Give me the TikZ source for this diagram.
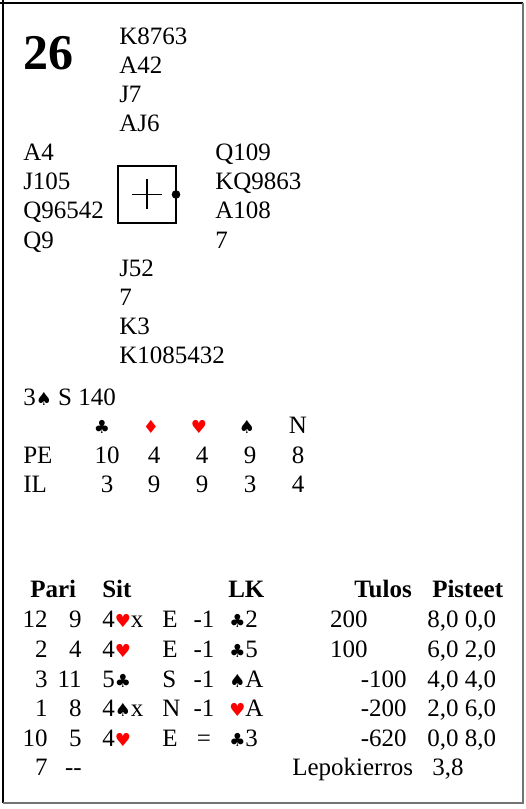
\documentclass[tikz,border=0pt]{standalone}
\usepackage{fontspec}
\setmainfont{Liberation Serif}
\newfontfamily\suitfont{DejaVu Sans}
\usetikzlibrary{calc}
\def\suitsym#1{{\suitfont\fontsize{13.5}{13.5}\selectfont #1}}
\newcommand{\Sp}{\suitsym{♠}}
\newcommand{\Cl}{\suitsym{♣}}
\newcommand{\He}{\textcolor{red}{\suitsym{♥}}}
\newcommand{\Di}{\textcolor{red}{\suitsym{♦}}}

\begin{document}
\begin{tikzpicture}[x=0.75pt,y=-0.75pt,
		txt/.style={inner sep=0pt,anchor=base west,font=\fontsize{18.75}{22}\selectfont},
		rtxt/.style={txt,anchor=base east},
		ctxt/.style={txt,anchor=base},
		head/.style={txt,font=\fontsize{18.75}{22}\selectfont\bfseries}]
		%%%%% START %%%%%
		\useasboundingbox (0,0) rectangle (525,809);
		\draw[line width=1.5] (3,803) -- (3,0);
		\draw[line width=1.5] (0,3) -- (523,3);
		\draw[line width=1.5,black!55] (523,3) -- (523,803) -- (3,803);
		
		\node[txt,font=\fontsize{37.5}{40}\selectfont\bfseries] (board) at (23,70) {26};
		
		% hands
		\foreach \c [count=\i] in {K8763,A42,J7,AJ6}
			\node[txt] (north\i) at (119,{45+29*(\i-1)}) {\c};
		\foreach \c [count=\i] in {A4,J105,Q96542,Q9}
			\node[txt] (west\i) at (23,{161+29*(\i-1)}) {\c};
		\foreach \c [count=\i] in {Q109,KQ9863,A108,7}
			\node[txt] (east\i) at (215,{161+29*(\i-1)}) {\c};
		\foreach \c [count=\i] in {J52,7,K3,K1085432}
			\node[txt] (south\i) at (119,{276+29*(\i-1)}) {\c};
		
		\draw[line width=1] (118,166) rectangle (176,223);
		\draw[line width=1] (132,194.5) -- (162,194.5);
		\draw[line width=1] (147,179.5) -- (147,209.5);
		\draw[fill=black] (176,194.5) circle (4);
		
		% contract and tricks
		\node[txt] (contract) at (23,405) {3\Sp\ S 140};
		\node[ctxt] (hcl) at (102,433) {\Cl};
		\node[ctxt] (hdi) at (151,433) {\Di};
		\node[ctxt] (hhe) at (199,433) {\He};
		\node[ctxt] (hsp) at (247,433) {\Sp};
		\node[ctxt] (hnt) at (298,433) {N};
		\node[txt] (pe) at (23,463) {PE};
		\node[txt] (il) at (23,492) {IL};
		\foreach \a/\b/\x [count=\i] in {10/3/107,4/9/154,4/9/202,9/3/250,8/4/298}{
			\node[ctxt] (pe\i) at (\x,463) {\a};
			\node[ctxt] (il\i) at (\x,492) {\b};
		}
		
		% results
		\node[head] (hpari) at (30,597) {Pari};
		\node[head] (hsit) at (102,597) {Sit};
		\node[head] (hlk) at (228,597) {LK};
		\node[head,anchor=base east] (htulos) at (412,597) {Tulos};
		\node[head] (hpist) at (432,597) {Pisteet};
		
		\node[rtxt] (a1) at (48,627) {12};
		\node[rtxt] (b1) at (82,627) {9};
		\node[txt] (s1) at (102,627) {4\He x};
		\node[txt] (d1) at (162,627) {E};
		\node[ctxt] (r1) at (204,627) {-1};
		\node[txt] (l1) at (229,627) {\Cl 2};
		\node[rtxt] (t1) at (368,627) {200};
		\node[txt] (p1) at (427,627) {8,0 0,0};
		
		\node[rtxt] (a2) at (48,657) {2};
		\node[rtxt] (b2) at (82,657) {4};
		\node[txt] (s2) at (102,657) {4\He};
		\node[txt] (d2) at (162,657) {E};
		\node[ctxt] (r2) at (204,657) {-1};
		\node[txt] (l2) at (229,657) {\Cl 5};
		\node[rtxt] (t2) at (368,657) {100};
		\node[txt] (p2) at (427,657) {6,0 2,0};
		
		\node[rtxt] (a3) at (48,687) {3};
		\node[rtxt] (b3) at (82,687) {11};
		\node[txt] (s3) at (102,687) {5\Cl};
		\node[txt] (d3) at (162,687) {S};
		\node[ctxt] (r3) at (204,687) {-1};
		\node[txt] (l3) at (229,687) {\Sp A};
		\node[rtxt] (t3) at (407,687) {-100};
		\node[txt] (p3) at (427,687) {4,0 4,0};
		
		\node[rtxt] (a4) at (48,716) {1};
		\node[rtxt] (b4) at (82,716) {8};
		\node[txt] (s4) at (102,716) {4\Sp x};
		\node[txt] (d4) at (162,716) {N};
		\node[ctxt] (r4) at (204,716) {-1};
		\node[txt] (l4) at (229,716) {\He A};
		\node[rtxt] (t4) at (407,716) {-200};
		\node[txt] (p4) at (427,716) {2,0 6,0};
		
		\node[rtxt] (a5) at (48,746) {10};
		\node[rtxt] (b5) at (82,746) {5};
		\node[txt] (s5) at (102,746) {4\He};
		\node[txt] (d5) at (162,746) {E};
		\node[ctxt] (r5) at (204,746) {=};
		\node[txt] (l5) at (229,746) {\Cl 3};
		\node[rtxt] (t5) at (407,746) {-620};
		\node[txt] (p5) at (427,746) {0,0 8,0};
		
		\node[rtxt] (a6) at (48,775) {7};
		\node[rtxt] (b6) at (82,775) {-{}-};
		\node[txt] (rest) at (292,775) {Lepokierros};
		\node[txt] (p6) at (432,775) {3,8};
		%%%%% END %%%%%
\end{tikzpicture}
\end{document}
